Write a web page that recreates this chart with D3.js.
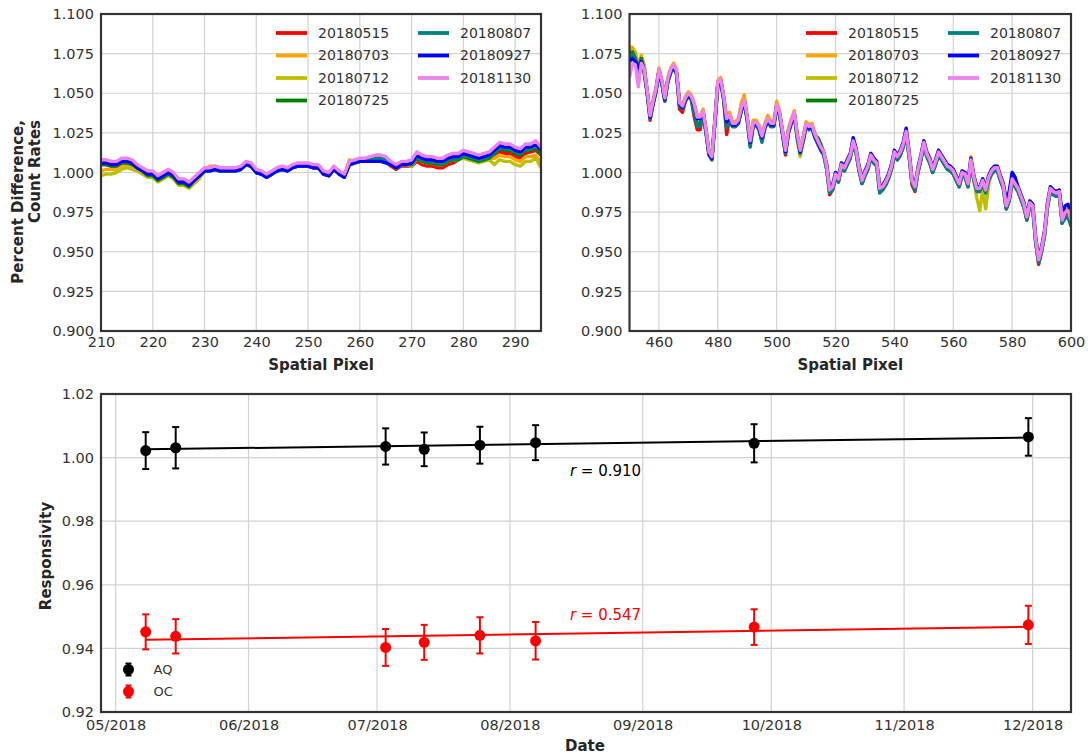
<!DOCTYPE html>
<html lang="en">
<head>
<meta charset="UTF-8">
<title>Responsivity</title>
<script src="https://d3js.org/d3.v7.min.js"></script>
<style>
  body { margin: 0; background: #fff; }
  text { font-family: "DejaVu Sans", sans-serif; fill: #333; }
  .grid line { stroke: #d2d2d2; stroke-width: 1.2; }
  .frame { fill: none; stroke: #333; stroke-width: 2.2; }
  .lbl { font-weight: bold; font-size: 15px; fill: #262626; }
</style>
</head>
<body>
<div id="graph"></div>
<script>
// ---- data ----
var seriesNames = ["20180515", "20180703", "20180712", "20180725", "20180807", "20180927", "20181130"];
var seriesColors = ["#ff0000", "#ffa500", "#bfbf00", "#008000", "#008080", "#0000ff", "#ee82ee"];

// left panel, spatial pixel 210..295
var leftStart = 210, leftEnd = 295;
var leftTicks = [210, 220, 230, 240, 250, 260, 270, 280, 290];
var left20180515 = [1.005,1.005,1.004,1.004,1.006,1.006,1.005,1.003,1.001,0.999,
  0.999,0.996,0.998,1.000,0.998,0.994,0.994,0.992,0.995,0.998,
  1.001,1.001,1.002,1.001,1.001,1.001,1.001,1.002,1.005,1.004,
  1.000,0.999,0.997,0.999,1.001,1.002,1.001,1.003,1.004,1.004,
  1.004,1.003,1.003,0.999,0.998,1.002,0.999,0.997,1.006,1.007,
  1.008,1.008,1.008,1.008,1.008,1.007,1.004,1.002,1.004,1.004,
  1.004,1.007,1.005,1.004,1.004,1.003,1.003,1.005,1.006,1.008,
  1.010,1.009,1.008,1.007,1.008,1.009,1.010,1.013,1.012,1.012,
  1.010,1.009,1.012,1.013,1.014,1.011];
var left20180703 = [1.001,1.002,1.002,1.002,1.004,1.005,1.004,1.003,1.001,0.999,
  0.999,0.996,0.998,1.000,0.998,0.994,0.994,0.992,0.995,0.998,
  1.002,1.004,1.004,1.003,1.002,1.002,1.002,1.003,1.006,1.005,
  1.000,0.999,0.997,0.999,1.001,1.002,1.001,1.003,1.004,1.004,
  1.004,1.003,1.003,0.999,0.998,1.002,0.999,0.998,1.008,1.007,
  1.008,1.008,1.008,1.008,1.008,1.007,1.005,1.003,1.005,1.005,
  1.004,1.009,1.007,1.006,1.006,1.005,1.005,1.007,1.008,1.008,
  1.010,1.009,1.008,1.007,1.008,1.009,1.009,1.011,1.010,1.010,
  1.008,1.007,1.010,1.010,1.011,1.006];
var left20180712 = [0.998,0.999,0.999,1.000,1.002,1.003,1.002,1.001,0.999,0.997,
  0.997,0.994,0.996,0.998,0.996,0.992,0.992,0.990,0.993,0.996,
  1.001,1.001,1.002,1.001,1.001,1.001,1.001,1.002,1.005,1.004,
  1.000,0.999,0.997,0.999,1.001,1.002,1.001,1.003,1.004,1.004,
  1.004,1.003,1.003,0.999,0.998,1.002,0.999,0.997,1.005,1.006,
  1.007,1.007,1.008,1.009,1.009,1.008,1.005,1.003,1.005,1.005,
  1.004,1.009,1.007,1.006,1.006,1.005,1.005,1.007,1.008,1.008,
  1.009,1.008,1.007,1.006,1.007,1.008,1.005,1.008,1.007,1.007,
  1.005,1.004,1.007,1.007,1.009,1.003];
var left20180725 = [1.005,1.005,1.004,1.004,1.006,1.006,1.005,1.003,1.001,0.998,
  0.998,0.995,0.997,0.999,0.997,0.993,0.993,0.991,0.995,0.998,
  1.001,1.001,1.002,1.001,1.001,1.001,1.001,1.002,1.005,1.004,
  1.000,0.999,0.997,0.999,1.001,1.002,1.001,1.003,1.004,1.004,
  1.004,1.003,1.003,0.999,0.998,1.002,0.999,0.998,1.005,1.006,
  1.007,1.007,1.008,1.009,1.009,1.008,1.005,1.003,1.005,1.005,
  1.005,1.009,1.007,1.006,1.006,1.005,1.005,1.007,1.008,1.008,
  1.010,1.009,1.008,1.007,1.008,1.009,1.012,1.015,1.014,1.014,
  1.012,1.011,1.014,1.014,1.016,1.011];
var left20180807 = [1.006,1.006,1.005,1.005,1.007,1.007,1.006,1.003,1.001,0.999,
  0.999,0.996,0.998,1.000,0.998,0.994,0.994,0.992,0.995,0.998,
  1.001,1.001,1.002,1.001,1.001,1.001,1.001,1.002,1.005,1.004,
  1.000,0.999,0.997,0.999,1.001,1.002,1.001,1.003,1.004,1.004,
  1.004,1.003,1.003,0.999,0.998,1.002,0.999,0.998,1.005,1.006,
  1.007,1.007,1.008,1.009,1.009,1.008,1.005,1.003,1.005,1.005,
  1.005,1.010,1.008,1.007,1.007,1.006,1.006,1.008,1.009,1.009,
  1.011,1.010,1.009,1.008,1.009,1.010,1.013,1.016,1.015,1.015,
  1.013,1.012,1.015,1.015,1.017,1.013];
var left20180927 = [1.006,1.006,1.005,1.005,1.007,1.007,1.006,1.003,1.001,0.999,
  0.999,0.996,0.998,1.000,0.998,0.994,0.994,0.992,0.995,0.998,
  1.001,1.001,1.002,1.001,1.001,1.001,1.001,1.002,1.005,1.004,
  1.000,0.999,0.997,0.999,1.001,1.002,1.001,1.003,1.004,1.004,
  1.004,1.003,1.003,0.999,0.998,1.002,0.999,0.997,1.005,1.006,
  1.007,1.007,1.007,1.007,1.007,1.006,1.005,1.003,1.005,1.005,
  1.006,1.011,1.009,1.008,1.008,1.007,1.007,1.009,1.010,1.010,
  1.012,1.011,1.010,1.009,1.010,1.011,1.014,1.017,1.016,1.016,
  1.014,1.013,1.016,1.016,1.018,1.014];
var left20181130 = [1.008,1.008,1.007,1.007,1.009,1.009,1.008,1.005,1.003,1.001,
  1.001,0.998,1.000,1.002,1.000,0.996,0.996,0.994,0.997,1.000,
  1.003,1.003,1.004,1.003,1.003,1.003,1.003,1.004,1.007,1.006,
  1.002,1.001,0.999,1.001,1.003,1.004,1.003,1.005,1.006,1.006,
  1.006,1.005,1.005,1.001,1.000,1.004,1.001,0.999,1.007,1.008,
  1.009,1.009,1.010,1.011,1.011,1.010,1.007,1.005,1.007,1.007,
  1.008,1.013,1.011,1.010,1.010,1.009,1.009,1.011,1.012,1.012,
  1.014,1.013,1.012,1.011,1.012,1.013,1.016,1.019,1.018,1.018,
  1.016,1.015,1.018,1.018,1.020,1.016];

// right panel, spatial pixel 450..600
var rightStart = 450, rightEnd = 600;
var rightTicks = [460, 480, 500, 520, 540, 560, 580, 600];
var right20180515 = [1.072,1.075,1.072,1.064,1.071,1.063,1.050,1.033,1.043,1.051,
  1.063,1.056,1.045,1.057,1.063,1.066,1.062,1.040,1.038,1.045,
  1.048,1.046,1.035,1.027,1.027,1.037,1.025,1.011,1.008,1.031,
  1.055,1.057,1.046,1.024,1.034,1.029,1.029,1.031,1.039,1.044,
  1.033,1.017,1.029,1.030,1.027,1.020,1.028,1.032,1.029,1.029,
  1.041,1.036,1.024,1.011,1.025,1.031,1.036,1.022,1.012,1.020,
  1.029,1.027,1.028,1.022,1.018,1.014,1.011,1.002,0.986,0.989,
  0.997,0.994,1.003,1.001,1.005,1.009,1.018,1.012,1.001,0.993,
  0.998,1.002,1.009,1.006,1.004,0.988,0.989,0.992,0.996,1.002,
  1.011,1.008,1.011,1.016,1.024,1.010,0.992,0.988,1.000,1.008,
  1.017,1.010,1.006,1.000,1.005,1.011,1.008,1.005,1.002,1.001,
  0.999,0.995,0.991,0.998,0.997,0.991,1.006,0.995,0.988,0.988,
  0.993,0.987,0.995,0.999,1.001,1.001,0.995,0.990,0.977,0.982,
  0.994,0.991,0.988,0.983,0.978,0.970,0.979,0.977,0.956,0.942,
  0.950,0.960,0.978,0.988,0.986,0.985,0.986,0.968,0.973,0.974,
  0.968];
var right20180703 = [1.079,1.079,1.076,1.067,1.074,1.068,1.053,1.037,1.046,1.054,
  1.066,1.059,1.048,1.060,1.066,1.069,1.065,1.045,1.043,1.048,
  1.051,1.049,1.044,1.036,1.036,1.040,1.028,1.014,1.011,1.034,
  1.058,1.060,1.049,1.035,1.038,1.032,1.032,1.034,1.044,1.049,
  1.036,1.021,1.033,1.033,1.030,1.024,1.031,1.036,1.032,1.032,
  1.045,1.039,1.027,1.015,1.028,1.034,1.039,1.025,1.015,1.023,
  1.032,1.030,1.031,1.025,1.021,1.017,1.014,1.005,0.990,0.992,
  1.000,0.997,1.006,1.004,1.008,1.012,1.021,1.015,1.004,0.996,
  1.001,1.005,1.012,1.009,1.007,0.991,0.992,0.995,0.999,1.005,
  1.014,1.011,1.014,1.019,1.027,1.013,0.996,0.992,1.003,1.011,
  1.020,1.013,1.009,1.003,1.008,1.014,1.011,1.008,1.005,1.004,
  1.002,0.998,0.994,1.001,1.000,0.994,1.010,0.998,0.991,0.991,
  0.996,0.990,0.998,1.002,1.004,1.004,0.998,0.993,0.980,0.985,
  0.997,0.994,0.991,0.986,0.981,0.973,0.982,0.980,0.959,0.946,
  0.953,0.963,0.981,0.991,0.989,0.988,0.989,0.971,0.976,0.977,
  0.971];
var right20180712 = [1.077,1.078,1.074,1.066,1.073,1.067,1.051,1.035,1.044,1.052,
  1.064,1.057,1.046,1.058,1.064,1.067,1.063,1.043,1.041,1.046,
  1.049,1.047,1.042,1.034,1.034,1.038,1.026,1.012,1.009,1.032,
  1.056,1.058,1.047,1.033,1.035,1.030,1.030,1.032,1.040,1.046,
  1.034,1.019,1.031,1.031,1.028,1.022,1.029,1.033,1.030,1.030,
  1.043,1.037,1.025,1.013,1.026,1.032,1.037,1.020,1.010,1.019,
  1.028,1.028,1.029,1.023,1.022,1.017,1.012,1.003,0.988,0.990,
  0.998,0.995,1.004,1.002,1.006,1.010,1.019,1.013,1.002,0.994,
  0.999,1.003,1.011,1.007,1.005,0.989,0.990,0.993,0.997,1.004,
  1.012,1.009,1.012,1.017,1.025,1.011,0.994,0.990,1.001,1.009,
  1.018,1.011,1.007,1.001,1.006,1.012,1.009,1.006,1.003,1.002,
  1.000,0.996,0.992,0.999,0.998,0.992,1.008,0.995,0.984,0.976,
  0.989,0.977,0.992,1.000,1.002,1.002,0.996,0.991,0.978,0.983,
  0.995,0.992,0.989,0.984,0.979,0.971,0.980,0.978,0.957,0.944,
  0.951,0.961,0.979,0.989,0.987,0.986,0.987,0.969,0.974,0.975,
  0.968];
var right20180725 = [1.075,1.076,1.072,1.065,1.072,1.064,1.051,1.035,1.044,1.052,
  1.064,1.057,1.046,1.058,1.064,1.067,1.063,1.043,1.041,1.046,
  1.049,1.047,1.039,1.031,1.031,1.038,1.026,1.012,1.009,1.032,
  1.056,1.058,1.047,1.029,1.035,1.030,1.030,1.032,1.040,1.045,
  1.034,1.019,1.030,1.031,1.028,1.022,1.029,1.033,1.030,1.030,
  1.042,1.037,1.025,1.013,1.026,1.032,1.037,1.023,1.013,1.021,
  1.030,1.028,1.029,1.023,1.022,1.018,1.012,1.003,0.988,0.990,
  0.998,0.995,1.004,1.002,1.006,1.010,1.019,1.013,1.002,0.994,
  0.999,1.003,1.010,1.007,1.005,0.989,0.990,0.993,0.997,1.003,
  1.012,1.009,1.012,1.017,1.025,1.011,0.994,0.990,1.001,1.009,
  1.018,1.011,1.007,1.001,1.006,1.012,1.009,1.006,1.003,1.002,
  1.000,0.996,0.992,0.999,0.998,0.992,1.007,0.996,0.989,0.989,
  0.994,0.988,0.996,1.000,1.002,1.002,0.996,0.991,0.978,0.983,
  0.995,0.992,0.989,0.984,0.979,0.971,0.980,0.978,0.957,0.944,
  0.951,0.961,0.979,0.989,0.987,0.986,0.987,0.969,0.974,0.975,
  0.969];
var right20180807 = [1.073,1.075,1.071,1.064,1.071,1.063,1.050,1.034,1.043,1.051,
  1.063,1.056,1.045,1.057,1.063,1.066,1.062,1.042,1.040,1.045,
  1.048,1.046,1.037,1.029,1.029,1.037,1.025,1.011,1.008,1.031,
  1.055,1.057,1.046,1.028,1.034,1.029,1.029,1.031,1.039,1.044,
  1.033,1.016,1.029,1.030,1.027,1.019,1.028,1.032,1.029,1.029,
  1.041,1.036,1.024,1.012,1.025,1.031,1.036,1.022,1.012,1.020,
  1.029,1.027,1.028,1.022,1.018,1.014,1.011,1.002,0.987,0.989,
  0.997,0.994,1.003,1.001,1.005,1.009,1.018,1.012,1.001,0.993,
  0.998,1.002,1.009,1.006,1.004,0.987,0.989,0.992,0.996,1.002,
  1.011,1.008,1.011,1.016,1.024,1.010,0.993,0.989,1.000,1.008,
  1.017,1.010,1.006,1.000,1.005,1.011,1.008,1.005,1.002,1.001,
  0.999,0.995,0.991,0.998,0.997,0.991,1.006,0.995,0.988,0.988,
  0.993,0.987,0.995,0.999,1.001,1.001,0.995,0.990,0.977,0.982,
  0.994,0.991,0.988,0.983,0.978,0.970,0.979,0.977,0.956,0.943,
  0.950,0.960,0.978,0.988,0.986,0.985,0.986,0.968,0.971,0.972,
  0.966];
var right20180927 = [1.070,1.072,1.070,1.066,1.070,1.065,1.051,1.035,1.044,1.052,
  1.064,1.057,1.046,1.058,1.064,1.067,1.063,1.043,1.041,1.046,
  1.049,1.047,1.042,1.034,1.034,1.038,1.026,1.012,1.009,1.032,
  1.056,1.058,1.047,1.032,1.035,1.030,1.030,1.032,1.040,1.045,
  1.034,1.019,1.030,1.031,1.028,1.022,1.029,1.033,1.030,1.030,
  1.042,1.037,1.025,1.013,1.026,1.032,1.037,1.023,1.013,1.021,
  1.030,1.028,1.029,1.023,1.019,1.015,1.012,1.005,0.990,0.992,
  1.000,0.997,1.006,1.004,1.008,1.012,1.022,1.015,1.004,0.996,
  1.001,1.005,1.012,1.009,1.007,0.991,0.992,0.995,0.999,1.005,
  1.014,1.011,1.014,1.019,1.028,1.013,0.996,0.992,1.003,1.011,
  1.020,1.013,1.009,1.003,1.008,1.014,1.011,1.008,1.005,1.004,
  1.002,0.998,0.994,1.001,1.000,0.994,1.009,0.998,0.991,0.991,
  0.996,0.990,0.998,1.002,1.004,1.004,0.998,0.993,0.983,0.988,
  1.000,0.997,0.991,0.986,0.981,0.973,0.982,0.980,0.959,0.946,
  0.953,0.963,0.981,0.991,0.989,0.988,0.989,0.974,0.979,0.980,
  0.974];
var right20181130 = [1.060,1.069,1.068,1.054,1.069,1.065,1.052,1.036,1.045,1.053,
  1.065,1.058,1.047,1.059,1.065,1.068,1.064,1.044,1.042,1.047,
  1.050,1.048,1.043,1.035,1.035,1.039,1.027,1.013,1.010,1.033,
  1.057,1.059,1.048,1.034,1.036,1.031,1.031,1.033,1.041,1.046,
  1.035,1.020,1.031,1.032,1.029,1.023,1.030,1.034,1.031,1.031,
  1.043,1.038,1.026,1.014,1.027,1.033,1.038,1.024,1.014,1.022,
  1.031,1.029,1.030,1.024,1.020,1.016,1.013,1.004,0.989,0.991,
  0.999,0.996,1.005,1.003,1.007,1.011,1.020,1.014,1.003,0.995,
  1.000,1.004,1.011,1.008,1.006,0.990,0.991,0.994,0.998,1.004,
  1.013,1.010,1.013,1.018,1.026,1.012,0.995,0.991,1.002,1.010,
  1.019,1.012,1.008,1.002,1.007,1.013,1.010,1.007,1.004,1.003,
  1.001,0.997,0.993,1.000,0.999,0.993,1.008,0.997,0.990,0.990,
  0.995,0.989,0.997,1.001,1.003,1.003,0.997,0.992,0.979,0.984,
  0.996,0.993,0.990,0.985,0.980,0.972,0.981,0.979,0.958,0.945,
  0.952,0.962,0.980,0.990,0.988,0.987,0.988,0.970,0.975,0.976,
  0.970];

var leftSeries = [left20180515, left20180703, left20180712, left20180725, left20180807, left20180927, left20181130];
var rightSeries = [right20180515, right20180703, right20180712, right20180725, right20180807, right20180927, right20181130];
var pctTicks = [0.900, 0.925, 0.950, 0.975, 1.000, 1.025, 1.050, 1.075, 1.100];

// bottom panel
var obsDates = ["2018-05-08", "2018-05-15", "2018-07-03", "2018-07-12", "2018-07-25", "2018-08-07", "2018-09-27", "2018-11-30"];
var aqValues = [1.0022, 1.0031, 1.0035, 1.0026, 1.0039, 1.0047, 1.0045, 1.0065];
var aqErrors = [0.0058, 0.0065, 0.0057, 0.0053, 0.0058, 0.0055, 0.0060, 0.0059];
var ocValues = [0.9452, 0.9438, 0.9403, 0.9419, 0.9441, 0.9424, 0.9467, 0.9474];
var ocErrors = [0.0055, 0.0054, 0.0058, 0.0055, 0.0057, 0.0059, 0.0056, 0.0060];
var aqFit = [1.0026, 1.0063];   // fit at first and last date
var ocFit = [0.9427, 0.9468];
var aqR = "0.910", ocR = "0.547";
var respTicks = [0.92, 0.94, 0.96, 0.98, 1.00, 1.02];
var monthTicks = ["2018-05-01", "2018-06-01", "2018-07-01", "2018-08-01", "2018-09-01", "2018-10-01", "2018-11-01", "2018-12-01"];

// ---- drawing ----
var width = 1088, height = 755;
var svg = d3.select("#graph").append("svg")
    .attr("width", width)
    .attr("height", height);
svg.append("rect").attr("width", width).attr("height", height).attr("fill", "#fff");

var parse = d3.utcParse("%Y-%m-%d");

function styleAxis(sel, size) {
    sel.select(".domain").remove();
    sel.selectAll("text").attr("font-size", size).attr("font-family", "DejaVu Sans, sans-serif");
}

function drawTop(x0, x1, start, end, ticks, series, legendX, id) {
    var top = 14, bottom = 331;
    var x = d3.scaleLinear().domain([start, end]).range([x0, x1]);
    var y = d3.scaleLinear().domain([0.9, 1.1]).range([bottom, top]);
    var g = svg.append("g");

    g.append("clipPath").attr("id", id)
        .append("rect").attr("x", x0).attr("y", top).attr("width", x1 - x0).attr("height", bottom - top);

    var grid = g.append("g").attr("class", "grid");
    grid.selectAll(".vx").data(ticks).enter().append("line")
        .attr("x1", x).attr("x2", x).attr("y1", top).attr("y2", bottom);
    grid.selectAll(".hy").data(pctTicks).enter().append("line")
        .attr("x1", x0).attr("x2", x1).attr("y1", y).attr("y2", y);

    var line = d3.line()
        .x(function (d, i) { return x(start + i); })
        .y(function (d) { return y(d); });

    g.append("g").attr("clip-path", "url(#" + id + ")")
        .selectAll("path").data(series).enter().append("path")
        .attr("d", line)
        .attr("fill", "none")
        .attr("stroke", function (d, i) { return seriesColors[i]; })
        .attr("stroke-width", 3.4)
        .attr("stroke-linejoin", "round");

    g.append("rect").attr("class", "frame")
        .attr("x", x0).attr("y", top).attr("width", x1 - x0).attr("height", bottom - top);

    g.append("g").attr("transform", "translate(0," + bottom + ")")
        .call(d3.axisBottom(x).tickValues(ticks).tickSize(0).tickPadding(6).tickFormat(d3.format("d")))
        .call(styleAxis, "14.5px");
    g.append("g").attr("transform", "translate(" + x0 + ",0)")
        .call(d3.axisLeft(y).tickValues(pctTicks).tickSize(0).tickPadding(7).tickFormat(d3.format(".3f")))
        .call(styleAxis, "14.5px");

    g.append("text").attr("class", "lbl")
        .attr("x", (x0 + x1) / 2).attr("y", 370)
        .attr("text-anchor", "middle")
        .text("Spatial Pixel");

    // legend, two columns
    var rowsY = [33, 55.5, 78, 100.5];
    var leg = g.selectAll(".leg").data(seriesNames).enter().append("g")
        .attr("transform", function (d, i) {
            var col = i < 4 ? 0 : 1;
            var row = i < 4 ? i : i - 4;
            return "translate(" + (legendX + col * 142) + "," + rowsY[row] + ")";
        });
    leg.append("line")
        .attr("x1", 0).attr("x2", 31).attr("y1", 0).attr("y2", 0)
        .attr("stroke", function (d, i) { return seriesColors[i]; })
        .attr("stroke-width", 3.8);
    leg.append("text")
        .attr("x", 42).attr("dy", "0.35em")
        .attr("font-size", "14px")
        .text(function (d) { return d; });
}

drawTop(101, 541, leftStart, leftEnd, leftTicks, leftSeries, 276, "clipL");
drawTop(629.5, 1071, rightStart, rightEnd, rightTicks, rightSeries, 806, "clipR");

// y label of the left panel (two lines)
svg.append("text").attr("class", "lbl")
    .attr("transform", "translate(23,120) rotate(-90)")
    .attr("text-anchor", "end")
    .text("Percent Difference,");
svg.append("text").attr("class", "lbl")
    .attr("transform", "translate(40,120) rotate(-90)")
    .attr("text-anchor", "end")
    .text("Count Rates");

// bottom panel
var bx0 = 101, bx1 = 1071, by0 = 394, by1 = 712;
var xt = d3.scaleUtc()
    .domain([new Date(Date.UTC(2018, 3, 27, 13, 40)), new Date(Date.UTC(2018, 11, 9, 22, 50))])
    .range([bx0, bx1]);
var yr = d3.scaleLinear().domain([0.92, 1.02]).range([by1, by0]);
var months = monthTicks.map(parse);
var dates = obsDates.map(parse);

var bg = svg.append("g");
var bgrid = bg.append("g").attr("class", "grid");
bgrid.selectAll(".vx").data(months).enter().append("line")
    .attr("x1", xt).attr("x2", xt).attr("y1", by0).attr("y2", by1);
bgrid.selectAll(".hy").data(respTicks).enter().append("line")
    .attr("x1", bx0).attr("x2", bx1).attr("y1", yr).attr("y2", yr);

function drawSeries(values, errors, fit, color) {
    var s = bg.append("g");
    var first = dates[0], last = dates[dates.length - 1];
    s.append("line")
        .attr("x1", xt(first)).attr("x2", xt(last))
        .attr("y1", yr(fit[0])).attr("y2", yr(fit[1]))
        .attr("stroke", color).attr("stroke-width", 2);
    var pts = s.selectAll(".pt").data(values).enter().append("g");
    pts.append("line")
        .attr("x1", function (d, i) { return xt(dates[i]); })
        .attr("x2", function (d, i) { return xt(dates[i]); })
        .attr("y1", function (d, i) { return yr(d - errors[i]); })
        .attr("y2", function (d, i) { return yr(d + errors[i]); })
        .attr("stroke", color).attr("stroke-width", 2);
    [-1, 1].forEach(function (sign) {
        pts.append("line")
            .attr("x1", function (d, i) { return xt(dates[i]) - 3.5; })
            .attr("x2", function (d, i) { return xt(dates[i]) + 3.5; })
            .attr("y1", function (d, i) { return yr(d + sign * errors[i]); })
            .attr("y2", function (d, i) { return yr(d + sign * errors[i]); })
            .attr("stroke", color).attr("stroke-width", 2);
    });
    pts.append("circle")
        .attr("cx", function (d, i) { return xt(dates[i]); })
        .attr("cy", function (d) { return yr(d); })
        .attr("r", 5.5)
        .attr("fill", color);
}
drawSeries(aqValues, aqErrors, aqFit, "#000");
drawSeries(ocValues, ocErrors, ocFit, "#ff0000");

// correlation notes
var noteX = xt(parse("2018-08-15"));
var aqNote = bg.append("text").attr("x", noteX).attr("y", 476).attr("font-size", "15px").style("fill", "#000");
aqNote.append("tspan").attr("font-style", "italic").text("r");
aqNote.append("tspan").text(" = " + aqR);
var ocNote = bg.append("text").attr("x", noteX).attr("y", 620).attr("font-size", "15px").style("fill", "#ff0000");
ocNote.append("tspan").attr("font-style", "italic").text("r");
ocNote.append("tspan").text(" = " + ocR);

bg.append("rect").attr("class", "frame")
    .attr("x", bx0).attr("y", by0).attr("width", bx1 - bx0).attr("height", by1 - by0);

bg.append("g").attr("transform", "translate(0," + by1 + ")")
    .call(d3.axisBottom(xt).tickValues(months).tickSize(0).tickPadding(8).tickFormat(d3.utcFormat("%m/%Y")))
    .call(styleAxis, "14.5px");
bg.append("g").attr("transform", "translate(" + bx0 + ",0)")
    .call(d3.axisLeft(yr).tickValues(respTicks).tickSize(0).tickPadding(7).tickFormat(d3.format(".2f")))
    .call(styleAxis, "14.5px");

bg.append("text").attr("class", "lbl")
    .attr("transform", "translate(51,556) rotate(-90)")
    .attr("text-anchor", "middle")
    .text("Responsivity");
bg.append("text").attr("class", "lbl")
    .attr("x", 585).attr("y", 751)
    .attr("text-anchor", "middle")
    .text("Date");

// legend of the bottom panel
var legItems = [["AQ", "#000", 669.5], ["OC", "#ff0000", 691.5]];
var bl = bg.selectAll(".bleg").data(legItems).enter().append("g")
    .attr("transform", function (d) { return "translate(128.5," + d[2] + ")"; });
bl.append("line").attr("x1", 0).attr("x2", 0).attr("y1", -6).attr("y2", 6)
    .attr("stroke", function (d) { return d[1]; }).attr("stroke-width", 2);
bl.append("line").attr("x1", -3).attr("x2", 3).attr("y1", -6).attr("y2", -6)
    .attr("stroke", function (d) { return d[1]; }).attr("stroke-width", 2);
bl.append("line").attr("x1", -3).attr("x2", 3).attr("y1", 6).attr("y2", 6)
    .attr("stroke", function (d) { return d[1]; }).attr("stroke-width", 2);
bl.append("circle").attr("r", 5.5).attr("fill", function (d) { return d[1]; });
bl.append("text").attr("x", 25).attr("dy", "0.35em").attr("font-size", "13px")
    .text(function (d) { return d[0]; });
</script>
</body>
</html>
